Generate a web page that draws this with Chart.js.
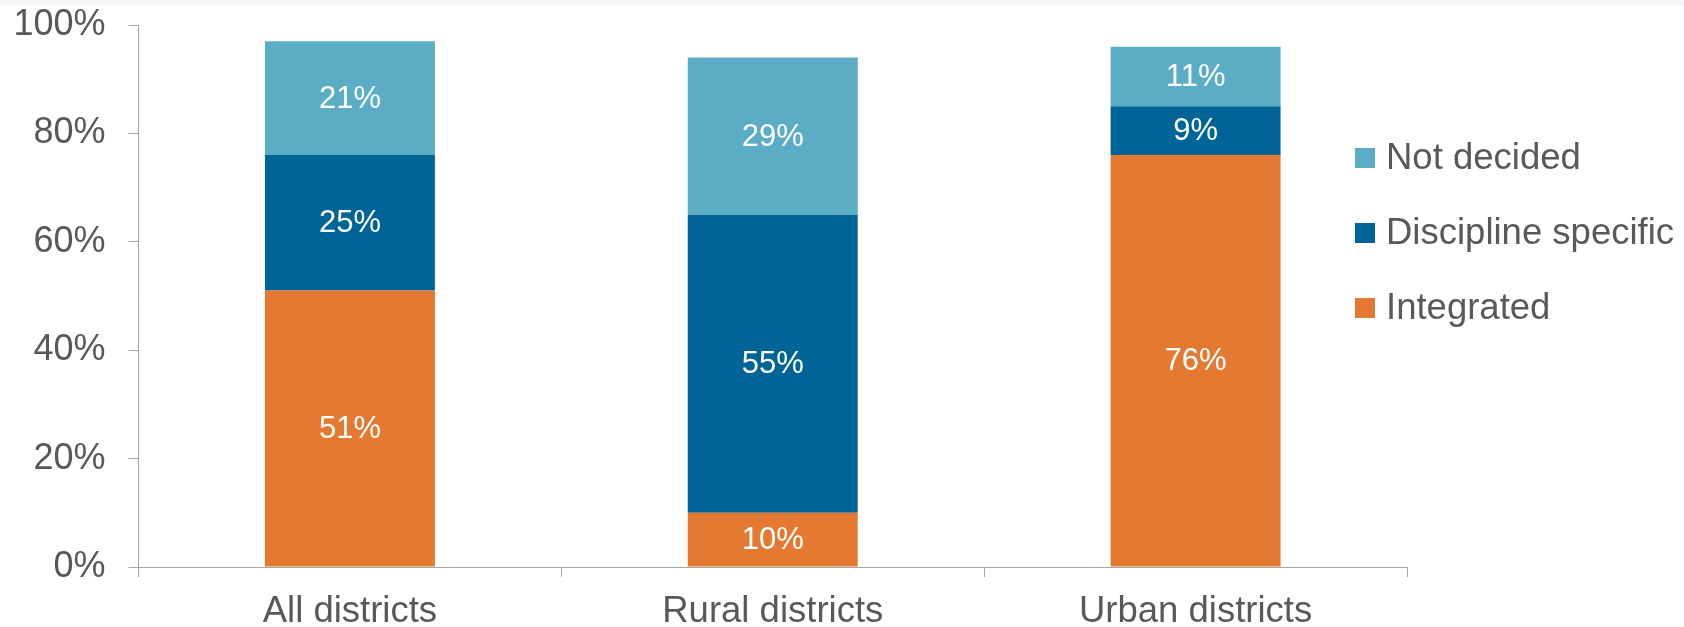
<!DOCTYPE html>
<html>
<head>
<meta charset="utf-8">
<script src="https://cdn.jsdelivr.net/npm/chart.js@4"></script>
<style>
  html, body { margin: 0; padding: 0; overflow: hidden; }
  body { background: linear-gradient(#f7f7f7 0 5px, #ffffff 5px); }
  #wrap { position: relative; width: 1684px; height: 627px; }
</style>
</head>
<body>
<div id="wrap"><canvas id="chart"></canvas></div>
<script>
const categories = ["All districts", "Rural districts", "Urban districts"];
const integrated = [51, 10, 76];
const disciplineSpecific = [25, 55, 9];
const notDecided = [21, 29, 11];
const yTicks = [0, 20, 40, 60, 80, 100];

const FONT = '"Liberation Sans", Arial, sans-serif';
const TEXT = "#595959";
const AXIS = "#a6a6a6";

// white value labels in the middle of each segment
const segmentLabels = {
  id: "segmentLabels",
  afterDatasetsDraw(chart) {
    const ctx = chart.ctx;
    ctx.save();
    ctx.fillStyle = "#ffffff";
    ctx.font = "31px " + FONT;
    ctx.textAlign = "center";
    ctx.textBaseline = "middle";
    chart.data.datasets.forEach((ds, i) => {
      chart.getDatasetMeta(i).data.forEach((bar, j) => {
        const p = bar.getCenterPoint();
        ctx.fillText(ds.data[j] + "%", p.x, p.y + 1);
      });
    });
    ctx.restore();
  }
};

// legend on the right, top entry = last dataset
const sideLegend = {
  id: "sideLegend",
  afterDraw(chart) {
    const ctx = chart.ctx;
    const items = chart.data.datasets.slice().reverse();
    ctx.save();
    ctx.font = "36.5px " + FONT;
    ctx.textBaseline = "middle";
    items.forEach((ds, i) => {
      const y = 158 + i * 75;
      ctx.fillStyle = ds.backgroundColor;
      ctx.fillRect(1355, y - 10, 20, 20);
      ctx.fillStyle = TEXT;
      ctx.fillText(ds.label, 1386, y + 1);
    });
    ctx.restore();
  }
};

new Chart(document.getElementById("chart"), {
  type: "bar",
  plugins: [segmentLabels, sideLegend],
  data: {
    labels: categories,
    datasets: [
      { label: "Integrated", data: integrated, backgroundColor: "#e47a31" },
      { label: "Discipline specific", data: disciplineSpecific, backgroundColor: "#016496" },
      { label: "Not decided", data: notDecided, backgroundColor: "#5badc6" },
    ],
  },
  options: {
    responsive: true,
    maintainAspectRatio: false,
    animation: false,
    layout: { padding: { top: 25, left: 13.5, right: 277, bottom: 0 } },
    datasets: { bar: { categoryPercentage: 1, barPercentage: 0.402, borderWidth: 0 } },
    plugins: {
      legend: { display: false },
      tooltip: { enabled: false },
    },
    scales: {
      x: {
        stacked: true,
        grid: { offset: true, drawOnChartArea: false, color: AXIS, tickLength: 10 },
        border: { color: AXIS, width: 1 },
        ticks: { color: TEXT, font: { family: FONT, size: 36.5 }, padding: 13, maxRotation: 0 },
        afterFit(scale) {
          scale.height = 60;
          scale.paddingLeft = 0;
          scale.paddingRight = 0;
        },
      },
      y: {
        stacked: true,
        min: 0,
        max: 100,
        afterBuildTicks(scale) { scale.ticks = yTicks.map(v => ({ value: v })); },
        grid: { drawOnChartArea: false, color: AXIS, tickLength: 10 },
        border: { color: AXIS, width: 1 },
        ticks: {
          color: TEXT,
          font: { family: FONT, size: 36 },
          padding: 23,
          callback: v => v + "%",
        },
        afterFit(scale) {
          scale.width = 125;
          scale.paddingTop = 0;
          scale.paddingBottom = 0;
        },
      },
    },
  },
});
</script>
</body>
</html>
